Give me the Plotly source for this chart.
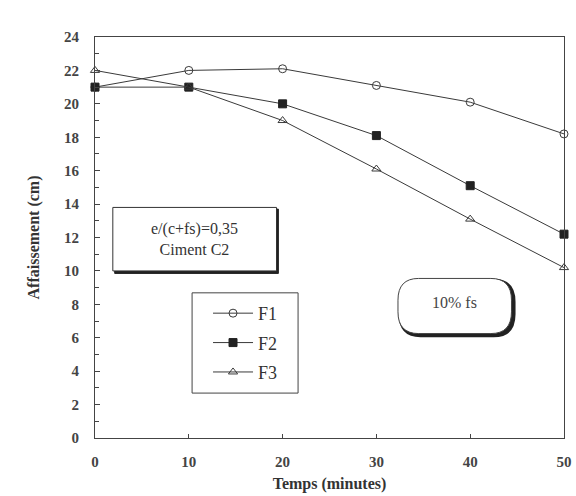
import plotly.graph_objects as go

temps = [0, 10, 20, 30, 40, 50]
f1 = [21.0, 22.0, 22.1, 21.1, 20.1, 18.2]
f2 = [21.0, 21.0, 20.0, 18.1, 15.1, 12.2]
f3 = [22.0, 21.0, 19.0, 16.1, 13.1, 10.2]
series_names = ["F1", "F2", "F3"]
x_ticks = [0, 10, 20, 30, 40, 50]
y_ticks = list(range(0, 25, 2))

FONT = "Liberation Serif"
LC = "#3a3a3a"

fig = go.Figure()
styles = [
    dict(symbol="circle-open", color=LC, size=8, line=dict(width=1, color=LC)),
    dict(symbol="square", color="#222222", size=8, line=dict(width=1, color="#222222")),
    dict(symbol="triangle-up-open", color=LC, size=8, line=dict(width=1, color=LC)),
]
for name, ys, mk in zip(series_names, [f1, f2, f3], styles):
    fig.add_trace(go.Scatter(
        x=temps, y=ys, name=name, mode="lines+markers", legendgroup=name,
        line=dict(color=LC, width=1), marker=mk,
        cliponaxis=False,
    ))

# Ciment box (with shadow)
fig.add_shape(type="rect", xref="x", yref="y", x0=2.1, x1=19.55, y0=9.85, y1=13.7,
              line=dict(color="#222", width=1), fillcolor="#222", layer="above")
fig.add_shape(type="rect", xref="x", yref="y", x0=1.9, x1=19.35, y0=10.0, y1=13.8,
              line=dict(color="#333", width=1), fillcolor="white", layer="above")
fig.add_annotation(xref="x", yref="y", x=10.6, y=11.9,
                   text="e/(c+fs)=0,35<br>Ciment C2", showarrow=False,
                   font=dict(family=FONT, size=16, color="#333"), align="center")

# 10% fs rounded box
def rounded(x0, x1, y0, y1, rx, ry):
    return (f"M {x0+rx},{y0} L {x1-rx},{y0} Q {x1},{y0} {x1},{y0+ry} "
            f"L {x1},{y1-ry} Q {x1},{y1} {x1-rx},{y1} L {x0+rx},{y1} "
            f"Q {x0},{y1} {x0},{y1-ry} L {x0},{y0+ry} Q {x0},{y0} {x0+rx},{y0} Z")

fig.add_shape(type="path", xref="x", yref="y",
              path=rounded(32.5, 44.7, 6.1, 9.45, 2.2, 1.3),
              line=dict(color="#222", width=2.5), fillcolor="#222", layer="above")
fig.add_shape(type="path", xref="x", yref="y",
              path=rounded(32.3, 44.4, 6.25, 9.55, 2.2, 1.3),
              line=dict(color="#444", width=1), fillcolor="white", layer="above")
fig.add_annotation(xref="x", yref="y", x=38.3, y=8.1, text="10% fs", showarrow=False,
                   font=dict(family=FONT, size=16, color="#444"))

# legend frame
fig.add_shape(type="rect", xref="paper", yref="paper", x0=0.207, x1=0.433,
              y0=0.112, y1=0.362, line=dict(color="#444", width=1),
              fillcolor="white", layer="below")

fig.update_layout(
    width=576, height=496,
    margin=dict(l=95, r=12, t=37, b=58),
    paper_bgcolor="white", plot_bgcolor="white",
    font=dict(family=FONT, color="#333"),
    showlegend=True,
    legend=dict(x=0.241, y=0.237, xanchor="left", yanchor="middle",
                bgcolor="rgba(0,0,0,0)", borderwidth=0,
                font=dict(family=FONT, size=18, color="#333"),
                itemwidth=40, tracegroupgap=3),
    xaxis=dict(range=[0, 50], tickvals=x_ticks, ticks="inside", ticklen=4,
               tickcolor="#444", showline=True, linecolor="#444", linewidth=1,
               mirror=True, showgrid=False, zeroline=False, automargin=False,
               ticklabelstandoff=10,
               tickfont=dict(family=FONT, size=15, color="#444", weight="bold"),
               title=dict(text="<b>Temps (minutes)</b>", standoff=8,
                          font=dict(family=FONT, size=16, color="#333"))),
    yaxis=dict(range=[0, 24], tickvals=y_ticks, ticks="inside", ticklen=5,
               tickcolor="#444", showline=True, linecolor="#444", linewidth=1,
               mirror=True, showgrid=False, zeroline=False, automargin=False,
               ticklabelstandoff=12,
               minor=dict(dtick=1, ticks="inside", ticklen=4, tickcolor="#444"),
               tickfont=dict(family=FONT, size=15, color="#444", weight="bold"),
               title=dict(text="<b>Affaissement (cm)</b>", standoff=20,
                          font=dict(family=FONT, size=16, color="#333"))),
)

fig.write_html("out.html", config={"displayModeBar": False},
               post_script="document.body.style.margin='0';document.body.style.overflow='hidden';")
